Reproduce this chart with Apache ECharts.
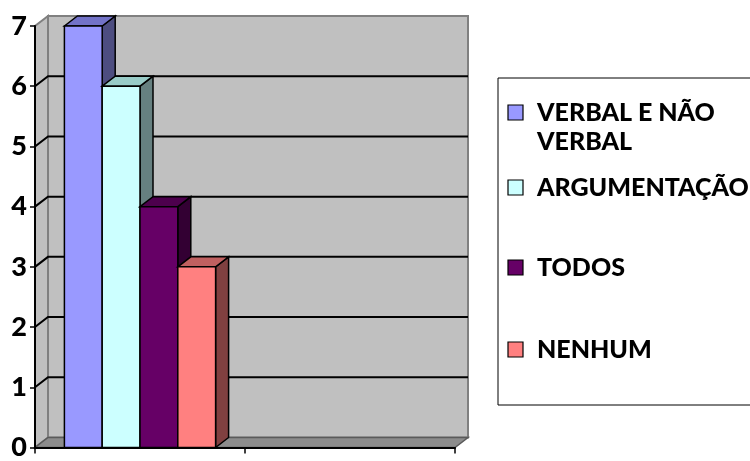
<!DOCTYPE html>
<html>
<head>
<meta charset="utf-8">
<script src="https://cdn.jsdelivr.net/npm/echarts@6/dist/echarts.min.js"></script>
<style>
html, body { margin: 0; padding: 0; background: #fff; }
#main { width: 750px; height: 461px; }
</style>
</head>
<body>
<div id="main"></div>
<script>
// data
const categories = ['', ''];
const seriesNames = ['VERBAL E NÃO\nVERBAL', 'ARGUMENTAÇÃO', 'TODOS', 'NENHUM'];
const seriesValues = [7, 6, 4, 3];
const yMin = 0, yMax = 7, yStep = 1;

// colours: front, top, side
const fronts = ['#9999FF', '#CCFFFF', '#660066', '#FF8080'];
const tops = ['#7373C8', '#99CCC8', '#4D004D', '#C06060'];
const sides = ['#4D4D80', '#668080', '#330033', '#804040'];

const DX = 13, DY = -10;   // 3d depth offset
const FONT = 'Lato';

const chart = echarts.init(document.getElementById('main'), null, { renderer: 'canvas' });

function wallsRender(params, api) {
    const cs = params.coordSys;
    const L = cs.x, R = cs.x + cs.width;
    const y0 = api.coord([0, yMin])[1];
    const yT = api.coord([0, yMax])[1];
    const kids = [];
    // left side wall
    kids.push({ type: 'polygon', shape: { points: [[L, y0], [L + DX, y0 + DY], [L + DX, yT + DY], [L, yT]] },
        style: { fill: '#C0C0C0', stroke: '#808080', lineWidth: 2 } });
    // back wall
    kids.push({ type: 'rect', shape: { x: L + DX, y: yT + DY, width: R - L, height: y0 - yT },
        style: { fill: '#C0C0C0', stroke: '#808080', lineWidth: 2 } });
    // grid lines
    for (let v = yMin + yStep; v < yMax; v += yStep) {
        const y = api.coord([0, v])[1];
        kids.push({ type: 'polyline', shape: { points: [[L, y], [L + DX, y + DY], [R + DX, y + DY]] },
            style: { stroke: '#000', lineWidth: 2, fill: null } });
    }
    // floor
    kids.push({ type: 'polygon', shape: { points: [[L, y0], [R, y0], [R + DX, y0 + DY], [L + DX, y0 + DY]] },
        style: { fill: '#8C8C8C', stroke: '#5A5A5A', lineWidth: 1.5 } });
    return { type: 'group', children: kids };
}

function barRender(idx) {
    return function (params, api) {
        const band = api.size([1, 0])[0];
        const w = band * 0.18;
        const top = api.coord([api.value(0), api.value(1)]);
        const base = api.coord([api.value(0), 0]);
        const x0 = top[0] + (idx - 1.5) * w - w / 2;
        const x1 = x0 + w;
        const yt = top[1], yb = base[1];
        const edge = { stroke: '#000', lineWidth: 1.5 };
        return {
            type: 'group',
            children: [
                { type: 'polygon', shape: { points: [[x1, yt], [x1 + DX, yt + DY], [x1 + DX, yb + DY], [x1, yb]] },
                  style: Object.assign({ fill: sides[idx] }, edge) },
                { type: 'polygon', shape: { points: [[x0, yt], [x0 + DX, yt + DY], [x1 + DX, yt + DY], [x1, yt]] },
                  style: Object.assign({ fill: tops[idx] }, edge) },
                { type: 'rect', shape: { x: x0, y: yt, width: w, height: yb - yt },
                  style: Object.assign({ fill: fronts[idx] }, edge) }
            ]
        };
    };
}

const series = [{
    type: 'custom',
    name: 'walls',
    z: 1,
    silent: true,
    renderItem: wallsRender,
    data: [[0, 0]]
}];
seriesValues.forEach(function (v, i) {
    series.push({
        type: 'custom',
        name: seriesNames[i],
        z: 2 + i,
        renderItem: barRender(i),
        data: [[0, v]]
    });
});

// legend drawn as graphics
const legendY = [113, 188, 268, 350];
const legendItems = [{
    type: 'rect', shape: { x: 498, y: 78, width: 270, height: 327 },
    style: { fill: '#fff', stroke: '#000', lineWidth: 1 }
}];
seriesNames.forEach(function (name, i) {
    legendItems.push({
        type: 'rect', shape: { x: 508, y: legendY[i] - 8, width: 15, height: 15 },
        style: { fill: fronts[i], stroke: '#000', lineWidth: 1.2 }
    });
    legendItems.push({
        type: 'text', x: 537, y: legendY[i] - 15,
        style: { text: name, font: '900 25px ' + FONT, fill: '#000', lineHeight: 29, verticalAlign: 'top' }
    });
});

const option = {
    backgroundColor: '#ffffff',
    animation: false,
    grid: { left: 35, right: 295, top: 26, bottom: 6 },
    xAxis: {
        type: 'category',
        data: categories,
        z: 10,
        axisLine: { lineStyle: { color: '#000', width: 2 } },
        axisTick: { show: true, length: 6, lineStyle: { color: '#000', width: 1.5 } },
        axisLabel: { show: false }
    },
    yAxis: {
        type: 'value',
        min: yMin,
        max: yMax,
        interval: yStep,
        z: 10,
        axisLine: { show: true, lineStyle: { color: '#000', width: 2 } },
        axisTick: { show: true, length: 5, lineStyle: { color: '#000', width: 1.5 } },
        splitLine: { show: false },
        axisLabel: { color: '#000', fontFamily: FONT, fontWeight: 900, fontSize: 27, margin: 8 }
    },
    graphic: legendItems,
    series: series
};

chart.setOption(option);
</script>
</body>
</html>
